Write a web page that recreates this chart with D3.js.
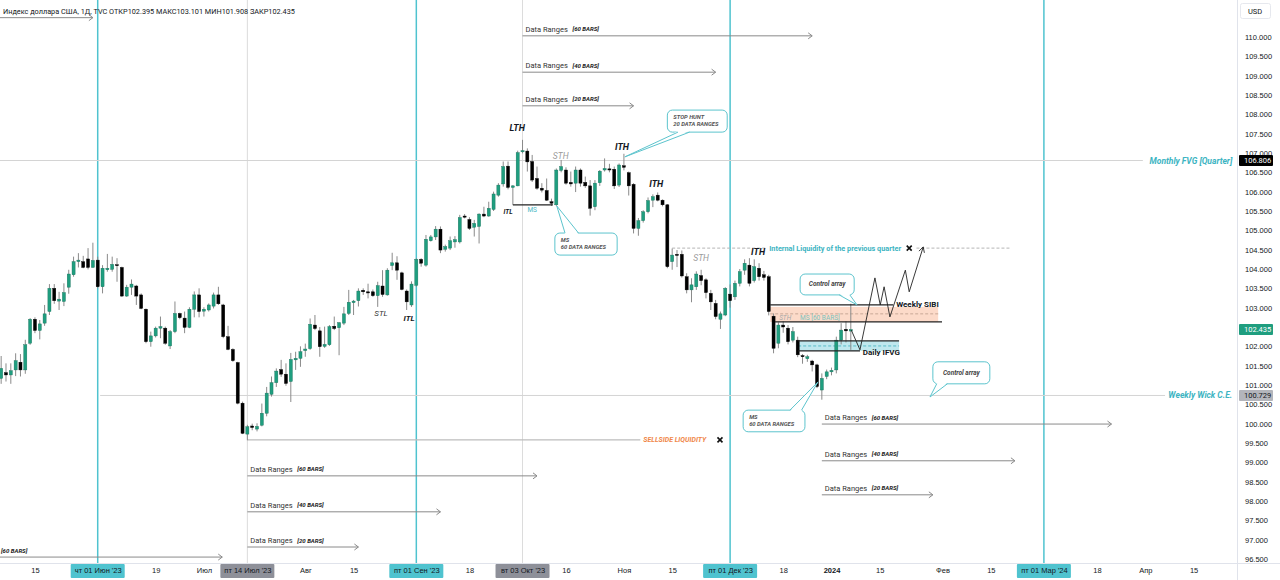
<!DOCTYPE html>
<html>
<head>
<meta charset="utf-8">
<script src="https://cdnjs.cloudflare.com/ajax/libs/d3/7.8.5/d3.min.js"></script>
<style>
  body { margin: 0; background: #fff; }
  svg { display: block; font-family: Roboto, "Liberation Sans", sans-serif; }
  .axis path { display: none; }
  .axis text { fill: #131722; font-size: 7.5px; }
</style>
</head>
<body>
<script>
// daily bars, index 0 = 01 Jun 2023 (one slot per weekday)
var firstBar = -20;
var opens  = [101.17,101.32,101.26,101.39,101.59,101.39,102.08,102.70,102.41,102.60,102.90,103.50,103.17,103.16,103.53,103.85,104.19,104.19,104.26,104.04,
  104.23,103.54,103.98,103.99,104.11,104.04,103.30,103.53,103.56,103.33,102.96,102.12,102.27,102.47,102.47,102.01,102.38,102.85,102.73,102.49,
  102.96,103.33,102.91,102.94,103.04,103.33,103.07,102.25,101.92,101.58,100.53,99.73,99.94,99.86,99.96,100.27,100.76,101.06,101.40,101.28,
  101.09,101.65,101.69,101.89,101.94,102.55,102.40,102.00,102.04,102.52,102.48,102.60,102.85,103.13,103.18,103.45,103.41,103.41,103.31,103.56,
  103.33,104.09,104.16,103.90,103.43,103.07,103.58,104.25,104.10,104.73,104.83,105.03,104.51,104.54,104.70,104.70,105.37,105.28,105.08,105.10,
  105.42,105.37,105.54,105.91,106.20,106.66,106.11,106.15,107.03,107.05,106.78,106.34,106.09,106.03,105.74,105.66,106.55,106.56,106.24,106.22,
  106.56,106.24,106.15,105.61,106.23,106.56,106.59,106.58,106.17,106.67,106.49,106.19,105.05,105.25,105.48,105.78,105.91,105.78,105.66,104.19,
  104.38,104.38,103.80,103.46,103.54,103.83,103.72,103.37,103.11,102.70,102.81,103.35,103.28,103.63,103.97,104.10,103.70,104.02,103.85,103.80,
  102.78,102.08,102.55,102.47,102.16,102.16,101.76,101.68,101.62,101.52,100.87,101.22,101.34,101.39,102.16,102.44,102.395];
var highs  = [101.75,101.56,101.56,101.82,101.80,102.17,102.73,102.75,102.68,103.07,103.61,103.61,103.41,103.63,103.98,104.32,104.41,104.34,104.54,104.68,
  104.32,104.10,104.39,104.32,104.28,104.06,103.59,103.73,103.59,103.37,102.98,102.38,102.51,102.77,102.51,102.42,103.16,102.87,102.90,103.01,
  103.42,103.50,103.01,103.11,103.39,103.54,103.10,102.53,101.95,101.60,100.57,99.97,100.00,100.01,100.52,100.95,101.22,101.43,101.65,101.56,
  101.83,101.86,102.00,102.07,102.72,102.81,102.50,102.51,102.55,102.77,102.63,103.02,103.46,103.20,103.50,103.50,103.62,103.47,103.67,103.97,
  104.02,104.42,104.33,103.93,103.47,103.68,104.28,104.28,104.88,104.88,105.11,105.10,104.63,104.84,104.85,105.40,105.42,105.34,105.27,105.44,
  105.61,105.74,106.00,106.22,106.78,106.78,106.17,107.06,107.34,107.12,106.95,106.65,106.22,106.34,105.82,106.60,106.82,106.63,106.52,106.65,
  106.60,106.39,106.30,106.30,106.56,106.86,106.72,106.65,106.73,106.98,106.52,106.22,105.32,105.52,105.85,105.93,105.98,105.80,105.68,104.53,
  104.49,104.48,103.89,103.76,103.94,103.98,103.76,103.46,103.20,102.90,103.53,103.60,103.70,104.00,104.25,104.28,104.25,104.15,103.95,103.85,
  102.85,102.62,102.65,102.55,102.50,102.25,101.80,101.78,101.65,101.55,101.30,101.40,101.45,102.25,102.60,102.65,103.101];
var lows   = [101.03,101.09,101.03,101.23,101.22,101.29,102.04,102.34,102.18,102.53,102.81,103.10,102.94,103.04,103.36,103.80,104.04,104.02,103.99,104.04,
  103.50,103.37,103.93,103.93,103.67,103.28,103.28,103.33,103.07,102.96,102.08,101.99,102.23,102.21,102.04,101.93,102.34,102.70,102.34,102.47,
  102.75,102.75,102.77,102.90,102.98,103.07,102.21,101.90,101.60,100.50,99.73,99.57,99.83,99.80,99.93,100.19,100.70,100.95,101.21,100.98,
  100.56,101.39,101.47,101.73,101.91,102.42,101.73,101.96,102.01,102.42,101.77,102.55,102.81,102.81,103.03,103.33,103.24,103.28,103.02,103.28,
  103.31,103.97,103.72,103.45,102.94,103.02,103.54,104.06,104.06,104.71,104.75,104.41,104.45,104.49,104.55,104.66,105.31,105.01,104.84,104.66,
  105.34,105.35,105.50,105.87,106.13,106.06,105.66,106.14,106.99,106.52,106.25,106.05,105.98,105.76,105.63,105.63,106.50,106.18,106.13,105.99,
  106.13,106.10,105.38,105.52,106.15,106.52,106.50,106.07,106.12,106.55,105.90,104.92,104.86,105.20,105.44,105.60,105.75,105.62,104.02,103.98,
  104.05,103.78,103.37,103.14,103.46,103.58,103.24,102.94,102.70,102.45,102.78,103.00,103.20,103.55,103.85,103.55,103.65,103.70,103.70,102.80,
  101.82,101.95,102.35,102.05,102.10,101.72,101.55,101.60,101.35,100.92,100.62,101.15,101.25,101.30,102.05,102.10,101.908];
var closes = [101.43,101.26,101.37,101.63,101.39,102.04,102.70,102.41,102.58,102.84,103.50,103.18,103.22,103.39,103.87,104.19,104.23,104.04,104.04,104.22,
  103.54,104.02,104.02,104.12,104.10,103.30,103.53,103.61,103.30,102.98,102.12,102.27,102.47,102.51,102.08,102.38,102.85,102.74,102.49,102.96,
  103.33,102.90,102.96,103.07,103.33,103.10,102.25,101.92,101.63,100.53,99.75,99.92,99.90,99.93,100.27,100.79,101.06,101.36,101.28,101.04,
  101.66,101.69,101.86,101.93,102.57,102.46,101.99,102.05,102.51,102.46,102.61,102.84,103.14,103.17,103.43,103.41,103.38,103.31,103.57,103.34,
  103.97,104.16,103.97,103.47,103.15,103.61,104.25,104.15,104.77,104.83,105.03,104.49,104.58,104.73,104.76,105.33,105.34,105.05,105.18,105.42,
  105.37,105.57,105.94,106.17,106.65,106.11,106.15,107.01,107.06,106.77,106.30,106.09,106.04,105.78,105.70,106.56,106.65,106.22,106.20,106.56,
  106.22,106.15,105.57,106.22,106.53,106.60,106.56,106.15,106.69,106.63,106.15,105.05,105.25,105.48,105.77,105.87,105.78,105.66,104.06,104.36,
  104.35,103.82,103.46,103.59,103.87,103.70,103.39,103.15,102.77,102.84,103.50,103.18,103.63,103.93,104.15,103.63,104.06,103.80,103.78,102.90,
  101.95,102.55,102.50,102.12,102.38,101.78,101.73,101.73,101.52,100.96,101.17,101.34,101.38,102.16,102.42,102.40,102.435];

var priceTicks = d3.range(96.5, 110.001, 0.5);
var timeTickBars = [-13, 0, 12, 22, 31, 43, 53, 66, 77, 88, 97, 109, 119, 131, 142, 152, 162, 175, 185, 196, 207, 217, 227];
var timeTickText = ["15", "чт 01 Июн '23", "19", "Июл", "пт 14 Июл '23", "Авг", "15", "пт 01 Сен '23", "18", "вт 03 Окт '23",
  "16", "Ноя", "15", "пт 01 Дек '23", "18", "2024", "15", "Фев", "15", "пт 01 Мар '24", "18", "Апр", "15"];
var quarterBars = [0, 66, 131, 196];
var markedBars = [31, 88];

// levels drawn on the chart
var fvgLevel = 106.806, wickLevel = 100.729, sellsideLevel = 99.58, internalLevel = 104.54;
var lastPrice = 102.435;

// data range arrows: start bar, end bar, price, label
var rangeStart = [88, 88, 88, 31, 31, 31, 150, 150, 150, -40, -60];
var rangeEnd   = [148, 128, 111, 91, 71, 54, 210, 190, 173, 25.8, -1];
var rangePrice = [110.03, 109.09, 108.22, 98.65, 97.72, 96.81, 99.99, 99.04, 98.16, 96.55, 110.50];
var rangeBars  = ["60", "40", "20", "60", "40", "20", "60", "40", "20", "60", ""];

// swing labels
var tagText  = ["LTH", "ITH", "ITH", "ITH", "STH", "STH", "STL", "ITL", "ITL", "MS", "STH", "MS [60 BARS]"];
var tagBar   = [86.9, 108.6, 115.7, 136.8, 95.9, 125.0, 58.7, 64.5, 85.0, 90.0, 142.4, 149.6];
var tagPrice = [107.65, 107.16, 106.20, 104.44, 106.92, 104.29, 102.86, 102.71, 105.47, 105.53, 102.73, 102.73];
var tagKind  = ["hi", "hi", "hi", "hi", "sth", "sth", "stl", "lo", "lo2", "ms", "sth2", "ms2"];

// projected path
var pathBars   = [156.1, 157.9, 161.0, 162.1, 162.9, 164.1, 167.3, 168.1, 171.0];
var pathPrices = [102.42, 101.91, 103.77, 103.07, 103.54, 102.76, 103.97, 103.41, 104.57];

// callouts
var notes = [
  {lines: ["STOP HUNT", "20 DATA RANGES"], b0: 118.0, b1: 130.4, p0: 108.11, p1: 107.54, side: "bottom", a: 120.2, b: 122.6, tb: 109.2, tp: 106.90},
  {lines: ["MS", "60 DATA RANGES"], b0: 94.7, b1: 107.6, p0: 104.93, p1: 104.36, side: "top", a: 96.8, b: 99.6, tb: 95.1, tp: 105.63},
  {lines: ["Control array"], b0: 145.5, b1: 156.7, p0: 103.87, p1: 103.33, side: "bottom", a: 153.6, b: 155.8, tb: 157.3, tp: 103.07},
  {lines: ["Control array"], b0: 173.0, b1: 184.8, p0: 101.60, p1: 101.03, side: "bottom", a: 173.8, b: 176.0, tb: 172.4, tp: 100.69},
  {lines: ["MS", "60 DATA RANGES"], b0: 133.7, b1: 146.5, p0: 100.35, p1: 99.79, side: "top", a: 143.4, b: 145.8, tb: 149.2, tp: 101.08}
];

var width = 1280, height = 580, plotW = 1237, plotH = 563;
var cyan = "#4fc3cf", upColor = "#1f9e7f";

var x = d3.scaleLinear().domain([-20.24, 236.0]).range([0, plotW]);
var y = d3.scaleLinear().domain([96.5, 110]).range([559, 37]);

var svg = d3.select("body").append("svg")
    .attr("width", width)
    .attr("height", height);

svg.append("rect").attr("width", width).attr("height", height).attr("fill", "#fff");
svg.append("clipPath").attr("id", "plot")
  .append("rect").attr("width", plotW).attr("height", plotH);

var plot = svg.append("g").attr("clip-path", "url(#plot)");

// vertical date lines
plot.selectAll(".mline").data(markedBars).enter().append("line")
    .attr("x1", function(d) { return x(d); }).attr("x2", function(d) { return x(d); })
    .attr("y1", 0).attr("y2", plotH)
    .attr("stroke", "#dcdcdc").attr("stroke-width", 1);

plot.selectAll(".qline").data(quarterBars).enter().append("line")
    .attr("x1", function(d) { return x(d); }).attr("x2", function(d) { return x(d); })
    .attr("y1", 0).attr("y2", plotH)
    .attr("stroke", cyan).attr("stroke-width", 1.5);

function hline(p, b0, b1, color, dash, w) {
  plot.append("line")
      .attr("x1", x(b0)).attr("x2", x(b1))
      .attr("y1", y(p)).attr("y2", y(p))
      .attr("stroke", color).attr("stroke-width", w || 1)
      .attr("stroke-dasharray", dash || null);
}

// horizontal levels
hline(fvgLevel, -20.24, 216.5, "#d4d4d4");
hline(wickLevel, 0.5, 221.1, "#d4d4d4");
hline(sellsideLevel, 31, 112.4, "#bdbdbd", null, 1.2);
hline(internalLevel, 119, 138.6, "#b5b5b5", "3,2");
hline(internalLevel, 169.6, 189, "#b5b5b5", "3,2");

// zone fills
plot.append("rect")
    .attr("x", x(139.3)).attr("width", x(174.1) - x(139.3))
    .attr("y", y(103.02)).attr("height", y(102.63) - y(103.02))
    .attr("fill", "#fbd3c0").attr("opacity", 0.85);
plot.append("rect")
    .attr("x", x(145.1)).attr("width", x(166.0) - x(145.1))
    .attr("y", y(102.14)).attr("height", y(101.88) - y(102.14))
    .attr("fill", "#bfe8ee");
hline(102.84, 139.3, 174.1, "#c9a898", "3,2");
hline(102.01, 145.1, 166.0, "#58bcc8", "3,2");

// data range arrows
rangeStart.forEach(function(s, k) {
  var yy = y(rangePrice[k]), xe = x(rangeEnd[k]);
  plot.append("line")
      .attr("x1", x(s)).attr("x2", xe).attr("y1", yy).attr("y2", yy)
      .attr("stroke", "#8a8a8a").attr("stroke-width", 1);
  plot.append("path")
      .attr("d", "M" + (xe - 4) + "," + (yy - 3) + "L" + xe + "," + yy + "L" + (xe - 4) + "," + (yy + 3))
      .attr("fill", "none").attr("stroke", "#8a8a8a").attr("stroke-width", 1);
  if (rangeBars[k] === "") return;
  var tx = x(s) + 3;
  if (s > -21) {
    plot.append("text").attr("x", tx).attr("y", yy - 4)
        .attr("font-size", "7.5px").attr("fill", "#333").text("Data Ranges");
  }
  plot.append("text").attr("x", s > -21 ? tx + 47 : 1).attr("y", yy - 4.5)
      .attr("font-size", "6px").attr("font-weight", "bold").attr("font-style", "italic")
      .attr("fill", "#222").text("[" + rangeBars[k] + " BARS]");
});

// candles
var bars = d3.range(opens.length).map(function(k) {
  return {i: firstBar + k, o: opens[k], h: highs[k], l: lows[k], c: closes[k]};
});
var bw = (x(1) - x(0)) * 0.64;

plot.selectAll(".wick").data(bars).enter().append("line")
    .attr("x1", function(d) { return x(d.i); }).attr("x2", function(d) { return x(d.i); })
    .attr("y1", function(d) { return y(d.h); }).attr("y2", function(d) { return y(d.l); })
    .attr("stroke", "#8a8a8a").attr("stroke-width", 1);

plot.selectAll(".body").data(bars).enter().append("rect")
    .attr("x", function(d) { return x(d.i) - bw / 2; })
    .attr("y", function(d) { return y(Math.max(d.o, d.c)); })
    .attr("width", bw)
    .attr("height", function(d) { return Math.max(1, Math.abs(y(d.o) - y(d.c))); })
    .attr("fill", function(d) { return d.c >= d.o ? upColor : "#000"; })
    .attr("stroke", function(d) { return d.c >= d.o ? "#17705b" : "#000"; })
    .attr("stroke-width", 0.4);

// structure line ITL -> MS
hline(105.66, 86, 94.3, "#222", null, 1.2);

// zone edges
hline(103.07, 139.3, 164.8, "#222", null, 1.2);
hline(102.63, 140.3, 174.9, "#222", null, 1.2);
hline(102.14, 145.1, 166.0, "#222", null, 1.2);
hline(101.88, 145.1, 157.9, "#222", null, 1.2);

// projected path
var zig = d3.line()
    .x(function(d) { return x(d[0]); })
    .y(function(d) { return y(d[1]); });
var zigPts = pathBars.map(function(b, k) { return [b, pathPrices[k]]; });
plot.append("path").attr("d", zig(zigPts))
    .attr("fill", "none").attr("stroke", "#222").attr("stroke-width", 0.9);
(function() {
  var n = zigPts.length, p1 = zigPts[n - 2], p2 = zigPts[n - 1];
  var ax = x(p2[0]), ay = y(p2[1]);
  var ang = Math.atan2(ay - y(p1[1]), ax - x(p1[0]));
  var s = 6, sp = 0.5;
  plot.append("path")
      .attr("d", "M" + (ax - s * Math.cos(ang - sp)) + "," + (ay - s * Math.sin(ang - sp)) +
                 "L" + ax + "," + ay +
                 "L" + (ax - s * Math.cos(ang + sp)) + "," + (ay - s * Math.sin(ang + sp)))
      .attr("fill", "none").attr("stroke", "#222").attr("stroke-width", 0.9);
})();

// swing labels
var tagStyle = {
  hi:   {size: 9,   weight: "bold",   style: "italic", fill: "#131722"},
  sth:  {size: 8.5, weight: "normal", style: "italic", fill: "#9a9a9a"},
  stl:  {size: 8,   weight: "normal", style: "italic", fill: "#333"},
  lo:   {size: 8,   weight: "bold",   style: "italic", fill: "#131722"},
  lo2:  {size: 6.5, weight: "bold",   style: "italic", fill: "#131722"},
  ms:   {size: 6.5, weight: "normal", style: "normal", fill: "#4db8c4"},
  sth2: {size: 6.5, weight: "normal", style: "italic", fill: "#a8a8a8"},
  ms2:  {size: 6.5, weight: "normal", style: "normal", fill: "#7cc2bd"}
};
tagText.forEach(function(t, k) {
  var st = tagStyle[tagKind[k]];
  plot.append("text")
      .attr("x", x(tagBar[k])).attr("y", y(tagPrice[k]))
      .attr("text-anchor", "middle").attr("dominant-baseline", "central")
      .attr("font-size", st.size + "px").attr("font-weight", st.weight)
      .attr("font-style", st.style).attr("fill", st.fill)
      .text(t);
});

// level texts
function levelText(t, b, p, anchor, color, size, style) {
  plot.append("text")
      .attr("x", x(b)).attr("y", y(p))
      .attr("text-anchor", anchor).attr("dominant-baseline", "central")
      .attr("font-size", size + "px").attr("font-weight", "bold")
      .attr("font-style", style).attr("fill", color)
      .text(t);
}
levelText("Monthly FVG [Quarter]", 235.0, fvgLevel, "end", "#3db4c2", 8.5, "italic");
levelText("Weekly Wick C.E.", 235.0, wickLevel, "end", "#3db4c2", 8.5, "italic");
levelText("SELLSIDE LIQUIDITY", 113.0, sellsideLevel, "start", "#f0874a", 7, "italic");
levelText("Internal Liquidity of the previous quarter", 139.1, internalLevel, "start", "#3db4c2", 7.3, "normal");
levelText("Weekly SIBI", 165.4, 103.07, "start", "#131722", 8, "normal");
levelText("Daily IFVG", 158.5, 101.85, "start", "#131722", 8, "normal");

function cross(b, p) {
  var cx = x(b), cy = y(p), r = 2.5;
  plot.append("path")
      .attr("d", "M" + (cx - r) + "," + (cy - r) + "L" + (cx + r) + "," + (cy + r) +
                 "M" + (cx + r) + "," + (cy - r) + "L" + (cx - r) + "," + (cy + r))
      .attr("stroke", "#111").attr("stroke-width", 1.6);
}
cross(128.9, sellsideLevel);
cross(168.1, internalLevel);

// callouts
notes.forEach(function(c) {
  var x0 = x(c.b0), x1 = x(c.b1), y0 = y(c.p0), y1 = y(c.p1);
  var g = plot.append("g");
  g.append("rect")
      .attr("x", x0).attr("y", y0).attr("width", x1 - x0).attr("height", y1 - y0)
      .attr("rx", 5).attr("fill", "#fff").attr("stroke", "#5cc4cd").attr("stroke-width", 1);
  var by = c.side === "top" ? y0 : y1, inset = c.side === "top" ? 1.2 : -1.2;
  var tip = [x(c.tb), y(c.tp)];
  g.append("path")
      .attr("d", "M" + x(c.a) + "," + (by + inset) + "L" + tip + "L" + x(c.b) + "," + (by + inset) + "Z")
      .attr("fill", "#fff");
  g.append("path")
      .attr("d", "M" + x(c.a) + "," + by + "L" + tip + "L" + x(c.b) + "," + by)
      .attr("fill", "none").attr("stroke", "#5cc4cd").attr("stroke-width", 1);
  if (c.lines.length === 1) {
    g.append("text")
        .attr("x", (x0 + x1) / 2).attr("y", (y0 + y1) / 2)
        .attr("text-anchor", "middle").attr("dominant-baseline", "central")
        .attr("font-size", "6.5px").attr("font-weight", "bold").attr("font-style", "italic")
        .attr("fill", "#444").text(c.lines[0]);
  } else {
    c.lines.forEach(function(t, k) {
      g.append("text")
          .attr("x", x0 + 6).attr("y", y0 + 9 + k * 7)
          .attr("font-size", "5.8px").attr("font-weight", "bold").attr("font-style", "italic")
          .attr("fill", "#555").text(t);
    });
  }
});

// header
svg.append("text")
    .attr("x", 3).attr("y", 14)
    .attr("font-size", "7.3px").attr("fill", "#131722")
    .text("Индекс доллара США, 1Д, TVC  ОТКР102.395  МАКС103.101  МИН101.908  ЗАКР102.435");

// price axis
svg.append("rect").attr("x", plotW).attr("y", 0).attr("width", width - plotW).attr("height", height).attr("fill", "#fff");
svg.append("line").attr("x1", plotW + 0.5).attr("x2", plotW + 0.5).attr("y1", 0).attr("y2", height)
    .attr("stroke", "#e0e3eb");
var yAxis = d3.axisRight(y).tickValues(priceTicks).tickFormat(d3.format(".3f")).tickSize(0).tickPadding(8);
svg.append("g").attr("class", "axis")
    .attr("transform", "translate(" + plotW + ",0)")
    .call(yAxis);

svg.append("rect").attr("x", 1240.5).attr("y", 3.5).attr("width", 30).attr("height", 15).attr("rx", 2)
    .attr("fill", "#fff").attr("stroke", "#e6e8ee");
svg.append("text").attr("x", 1255).attr("y", 11).attr("text-anchor", "middle").attr("dominant-baseline", "central")
    .attr("font-size", "7.5px").attr("fill", "#131722").text("USD");

var priceTags = [fvgLevel, lastPrice, wickLevel];
var priceTagFill = ["#000", upColor, "#b3b5bb"];
var priceTagText = ["#fff", "#fff", "#131722"];
priceTags.forEach(function(p, k) {
  svg.append("rect").attr("x", plotW + 2).attr("y", y(p) - 5.5).attr("width", 34).attr("height", 11)
      .attr("rx", 1).attr("fill", priceTagFill[k]);
  svg.append("text").attr("x", plotW + 7).attr("y", y(p)).attr("dominant-baseline", "central")
      .attr("font-size", "7.5px").attr("fill", priceTagText[k]).text(d3.format(".3f")(p));
});

// time axis
svg.append("rect").attr("x", 0).attr("y", plotH).attr("width", plotW).attr("height", height - plotH).attr("fill", "#fff");
svg.append("line").attr("x1", 0).attr("x2", width).attr("y1", plotH + 0.5).attr("y2", plotH + 0.5)
    .attr("stroke", "#e0e3eb");

timeTickBars.forEach(function(b, k) {
  var isQ = quarterBars.indexOf(b) >= 0, isM = markedBars.indexOf(b) >= 0;
  if (!isQ && !isM) return;
  svg.append("rect").attr("x", x(b) - 27).attr("y", plotH + 1).attr("width", 54).attr("height", 14)
      .attr("rx", 1).attr("fill", isQ ? cyan : "#8e9099");
});

var xAxis = d3.axisBottom(x).tickValues(timeTickBars)
    .tickFormat(function(d, i) { return timeTickText[i]; })
    .tickSize(0).tickPadding(5);
var xg = svg.append("g").attr("class", "axis")
    .attr("transform", "translate(0," + plotH + ")")
    .call(xAxis);
xg.selectAll("text")
    .attr("fill", function(d) { return markedBars.indexOf(d) >= 0 ? "#e6e6e6" : "#131722"; })
    .attr("font-weight", function(d) { return d === 152 ? "bold" : null; });
</script>
</body>
</html>
